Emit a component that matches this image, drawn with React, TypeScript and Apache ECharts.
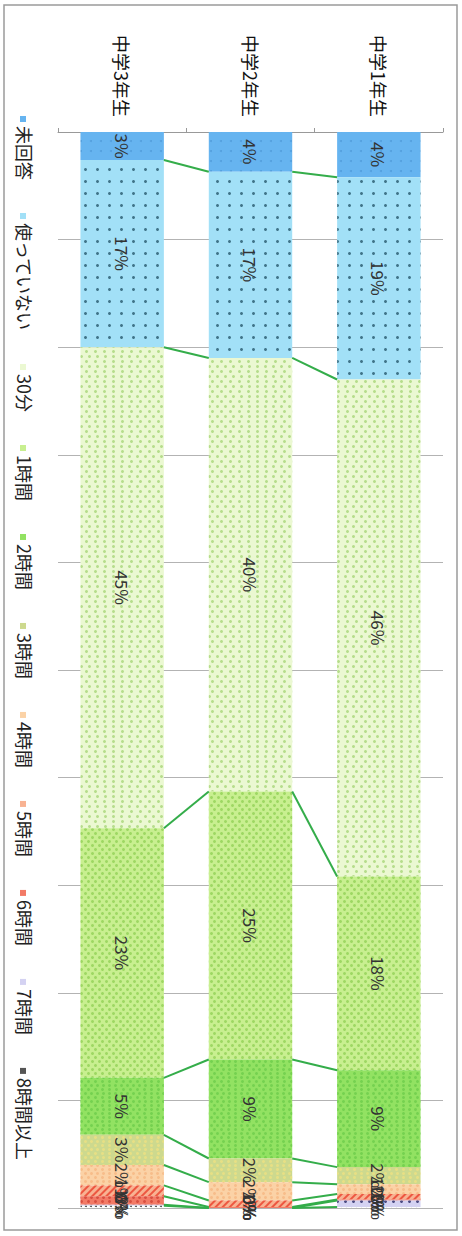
import React, { useEffect, useRef } from "react";
import * as echarts from "echarts";

// Categories, left to right as drawn
const categories = ["中学3年生", "中学2年生", "中学1年生"];

// Series names (legend order)
const seriesNames = [
  "未回答",
  "使っていない",
  "30分",
  "1時間",
  "2時間",
  "3時間",
  "4時間",
  "5時間",
  "6時間",
  "7時間",
  "8時間以上",
];

// Values in %, per category [中学3年生, 中学2年生, 中学1年生]
const noAnswer = [2.6, 3.7, 4.2];
const notUsing = [17.4, 17.3, 18.8];
const min30 = [44.7, 40.3, 46.2];
const hour1 = [23.2, 24.9, 18.0];
const hour2 = [5.3, 9.2, 9.0];
const hour3 = [2.8, 2.2, 1.6];
const hour4 = [1.9, 1.7, 0.9];
const hour5 = [1.0, 0.6, 0.5];
const hour6 = [0.8, 0.1, 0.1];
const hour7 = [0.1, 0.0, 0.6];
const hour8plus = [0.2, 0.0, 0.1];

const seriesValues = [noAnswer, notUsing, min30, hour1, hour2, hour3, hour4, hour5, hour6, hour7, hour8plus];

const FONT = "'Noto Sans CJK JP', 'Noto Sans', sans-serif";

const dots = (color: string, size: number, gap: number, stagger = true) => {
  const period = size + gap;
  const half = period / 2;
  return {
    symbol: "circle",
    symbolSize: 1,
    color,
    dashArrayX: stagger ? [[size, gap], [0, half, size, half - size]] : [size, gap],
    dashArrayY: stagger ? [size, Math.max(0.5, half - size)] : [size, gap],
  };
};

const styles = [
  { color: "#66b4f0", decal: dots("rgba(40,110,180,0.3)", 2, 8, false) },
  { color: "#a2e0f7", decal: dots("rgba(30,80,100,0.75)", 2.2, 8.5, false) },
  { color: "#ebf8d2", decal: dots("rgba(160,210,110,0.7)", 2.4, 4.4) },
  { color: "#c8ef90", decal: dots("rgba(140,205,80,0.7)", 2.2, 3.4) },
  { color: "#92e262", decal: dots("rgba(110,205,75,0.8)", 2.2, 2.8) },
  { color: "#cdd98e", decal: dots("rgba(235,225,130,0.85)", 2.4, 3) },
  { color: "#fbd2a6", decal: dots("rgba(245,175,120,0.6)", 2.4, 3) },
  {
    color: "#f8b292",
    decal: { symbol: "rect", symbolSize: 1, color: "rgba(235,70,50,0.85)", dashArrayX: [1, 0], dashArrayY: [2, 3], rotation: -Math.PI / 4 },
  },
  { color: "#f27a66", decal: dots("rgba(200,50,40,0.6)", 2.2, 3) },
  { color: "#d4d2f2", decal: dots("rgba(50,50,110,0.85)", 2.2, 5, false) },
  { color: "#ffffff", decal: dots("rgba(40,40,40,0.9)", 2, 3, false) },
];

const BAR_RATIO = 0.65;

function measure(text: string, font: string): number {
  const c = document.createElement("canvas").getContext("2d");
  if (!c) return text.length * 18;
  c.font = font;
  return c.measureText(text).width;
}

export default function App() {
  const ref = useRef<HTMLDivElement>(null);

  useEffect(() => {
    if (!ref.current) return;
    const chart = echarts.init(ref.current, undefined, { renderer: "svg" });

    // cumulative boundaries per category
    const cum = categories.map((_, ci) => {
      let s = 0;
      return seriesValues.map((arr) => (s += arr[ci]));
    });
    const lineData: number[][] = [];
    for (let p = 0; p < categories.length - 1; p++) {
      for (let k = 0; k < seriesValues.length - 1; k++) {
        lineData.push([p, cum[p][k], cum[p + 1][k]]);
      }
    }

    // legend as rotated graphic items
    const legendFontSize = 18;
    const legendFont = `${legendFontSize}px ${FONT}`;
    const legendItems: any[] = [];
    let y = 116;
    seriesNames.forEach((name, i) => {
      legendItems.push({
        type: "rect",
        x: 20,
        y: y,
        shape: { width: 6, height: 6 },
        style: { fill: styles[i].color === "#ffffff" ? "#555" : styles[i].color },
      });
      const tStart = y + 10;
      legendItems.push({
        type: "text",
        x: 25,
        y: tStart,
        rotation: -Math.PI / 2,
        style: {
          text: name,
          font: legendFont,
          fill: "#222",
          align: "left",
          verticalAlign: "middle",
        },
      });
      y = tStart + measure(name, legendFont) + 33;
    });

    const series: any[] = seriesNames.map((name, i) => ({
      name,
      type: "bar",
      stack: "total",
      barWidth: `${BAR_RATIO * 100}%`,
      data: seriesValues[i],
      itemStyle: { color: styles[i].color, decal: styles[i].decal },
      label: {
        show: true,
        position: "inside",
        rotate: -90,
        fontSize: 17,
        fontFamily: FONT,
        color: "#333",
        formatter: (p: any) => `${Math.round(p.value)}%`,
      },
      emphasis: { disabled: true },
    }));

    series.push({
      type: "custom",
      name: "series-lines",
      silent: true,
      z: 3,
      encode: { x: 0, y: [1, 2] },
      data: lineData,
      renderItem: (params: any, api: any) => {
        const i = api.value(0);
        const a = api.value(1);
        const b = api.value(2);
        const p1 = api.coord([i, a]);
        const p2 = api.coord([i + 1, b]);
        const band = api.size([1, 0])[0];
        const half = (band * BAR_RATIO) / 2;
        return {
          type: "line",
          shape: { x1: p1[0] + half, y1: p1[1], x2: p2[0] - half, y2: p2[1] },
          style: { stroke: "#34ad4a", lineWidth: 2 },
        };
      },
    });

    chart.setOption({
      animation: false,
      backgroundColor: "#ffffff",
      textStyle: { fontFamily: FONT },
      grid: { left: 58, right: 19, top: 132, bottom: 28, containLabel: false, outerBoundsMode: "none" },
      xAxis: {
        type: "category",
        position: "top",
        data: categories,
        axisLine: { show: true, lineStyle: { color: "#999", width: 1 } },
        axisTick: { show: true, length: 4, lineStyle: { color: "#999" } },
        axisLabel: { rotate: -90, fontSize: 18, color: "#111", margin: 15, fontFamily: FONT },
      },
      yAxis: {
        type: "value",
        inverse: true,
        min: 0,
        max: 100,
        interval: 10,
        axisLabel: { show: false },
        axisLine: { show: false },
        axisTick: { show: false },
        splitLine: { show: true, lineStyle: { color: "#b3b3b3", width: 1 } },
      },
      series,
      graphic: [
        {
          type: "rect",
          x: 4,
          y: 5,
          shape: { width: 453, height: 1225 },
          style: { fill: "none", stroke: "#9a9a9a", lineWidth: 1.5 },
          silent: true,
        },
        ...legendItems,
      ],
    });

    return () => chart.dispose();
  }, []);

  return (
    <div
      ref={ref}
      style={{ position: "absolute", left: 0, top: 0, width: 462, height: 1236 }}
    />
  );
}
